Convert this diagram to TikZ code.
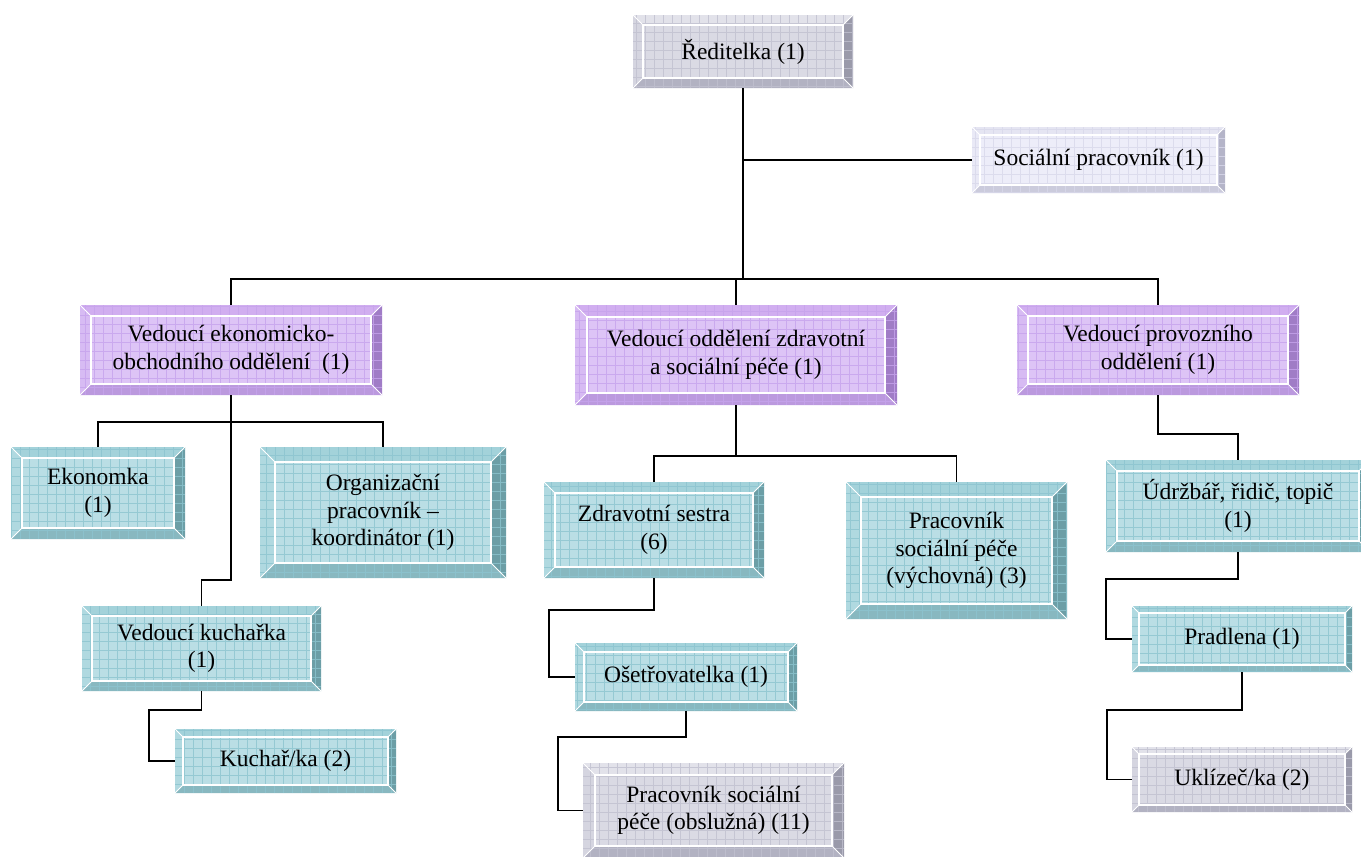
\documentclass[tikz,border=0pt]{standalone}
\usepackage{fontspec}
\setmainfont{Liberation Serif}
\usetikzlibrary{calc}
% teal
\definecolor{tF}{HTML}{BADEE5}\definecolor{tT}{HTML}{A3D2DA}\definecolor{tL}{HTML}{B0D9E0}
\definecolor{tR}{HTML}{6C9EA6}\definecolor{tB}{HTML}{88B8C0}\definecolor{tG}{HTML}{8CC4CF}
% purple
\definecolor{pF}{HTML}{DDC4F6}\definecolor{pT}{HTML}{D1AEF0}\definecolor{pL}{HTML}{D7BBF3}
\definecolor{pR}{HTML}{A07CC6}\definecolor{pB}{HTML}{BB99DE}\definecolor{pG}{HTML}{C6A3EC}
% grey
\definecolor{gF}{HTML}{DADAE4}\definecolor{gT}{HTML}{E2E2EA}\definecolor{gL}{HTML}{D5D5E0}
\definecolor{gR}{HTML}{9A9AAA}\definecolor{gB}{HTML}{B2B2C2}\definecolor{gG}{HTML}{C0C0CF}
% lavender
\definecolor{lF}{HTML}{EDEDF9}\definecolor{lT}{HTML}{E5E5F2}\definecolor{lL}{HTML}{E9E9F6}
\definecolor{lR}{HTML}{B4B4C8}\definecolor{lB}{HTML}{CBCBDC}\definecolor{lG}{HTML}{D8D8EA}
% defaults
\colorlet{bT}{tT}\colorlet{bL}{tL}\colorlet{bR}{tR}\colorlet{bB}{tB}\colorlet{bG}{tG}
\def\bev{10}
\begin{document}
\begin{tikzpicture}[x=1pt,y=-1pt,
  conn/.style={draw=black, line width=1.8pt},
  bev/.store in=\bev,
  bx/.style n args={3}{minimum width=#1, minimum height=#2, bev=#3},
  schteal/.style={fill=tF,/utils/exec={\colorlet{bT}{tT}\colorlet{bL}{tL}\colorlet{bR}{tR}\colorlet{bB}{tB}\colorlet{bG}{tG}}},
  schpurple/.style={fill=pF,/utils/exec={\colorlet{bT}{pT}\colorlet{bL}{pL}\colorlet{bR}{pR}\colorlet{bB}{pB}\colorlet{bG}{pG}}},
  schgrey/.style={fill=gF,/utils/exec={\colorlet{bT}{gT}\colorlet{bL}{gL}\colorlet{bR}{gR}\colorlet{bB}{gB}\colorlet{bG}{gG}}},
  schlav/.style={fill=lF,/utils/exec={\colorlet{bT}{lT}\colorlet{bL}{lL}\colorlet{bR}{lR}\colorlet{bB}{lB}\colorlet{bG}{lG}}},
  box/.style={rectangle, inner sep=0pt, outer sep=0pt, align=center,
    font=\fontsize{23.5}{27.4}\selectfont,
    path picture={
      \coordinate (pNW) at (path picture bounding box.north west);
      \coordinate (pSE) at (path picture bounding box.south east);
      \coordinate (pNE) at (pSE |- pNW);
      \coordinate (pSW) at (pNW |- pSE);
      \coordinate (iNW) at ($(pNW)+(\bev pt,-\bev pt)$);
      \coordinate (iNE) at ($(pNE)+(-\bev pt,-\bev pt)$);
      \coordinate (iSE) at ($(pSE)+(-\bev pt,\bev pt)$);
      \coordinate (iSW) at ($(pSW)+(\bev pt,\bev pt)$);
      \fill[bT] (pNW) -- (pNE) -- (iNE) -- (iNW) -- cycle;
      \fill[bL] (pNW) -- (pSW) -- (iSW) -- (iNW) -- cycle;
      \fill[bR] (pNE) -- (pSE) -- (iSE) -- (iNE) -- cycle;
      \fill[bB] (pSW) -- (pSE) -- (iSE) -- (iSW) -- cycle;
      \draw[bG, line width=0.7pt, opacity=0.8, step=9pt] (pSW) grid (pNE);
      \draw[white, line width=1.3pt] (iNW) rectangle (iSE);
      \draw[white, line width=0.8pt] (pNW) -- (iNW) (pNE) -- (iNE) (pSW) -- (iSW) (pSE) -- (iSE);
    }}
]
\useasboundingbox (0,0) rectangle (1361,857);

% nodes
\node[box, schgrey, bx={220}{73}{10}] (red) at (743,51.5) {Ředitelka (1)};
\node[box, schlav, bx={253}{66}{8}] (soc) at (1098.5,160) {Sociální pracovník (1)};

\node[box, schpurple, bx={302}{90}{11}] (ekon) at (231,350) {Vedoucí ekonomicko-\\obchodního oddělení~~(1)};
\node[box, schpurple, bx={322}{100}{12}] (zdr) at (736,355) {Vedoucí oddělení zdravotní\\a sociální péče (1)};
\node[box, schpurple, bx={282}{90}{11}] (prov) at (1158,350) {Vedoucí provozního\\oddělení (1)};

\node[box, schteal, bx={174}{92}{11}] (ekonomka) at (98,493) {Ekonomka\\(1)};
\node[box, schteal, bx={246}{131}{15}] (org) at (383,512.5) {Organizační\\pracovník –\\koordinátor (1)};
\node[box, schteal, bx={239}{85}{10}] (vedkuch) at (201.5,648.5) {Vedoucí kuchařka\\(1)};
\node[box, schteal, bx={221}{64}{8}] (kuch) at (285.5,761) {Kuchař/ka (2)};

\node[box, schteal, bx={220}{96}{11}] (zs) at (654,530) {Zdravotní sestra\\(6)};
\node[box, schteal, bx={221}{137}{15}] (pspv) at (956.5,550.5) {Pracovník\\sociální péče\\(výchovná) (3)};
\node[box, schteal, bx={222}{68}{9}] (ose) at (686,677) {Ošetřovatelka (1)};
\node[box, schgrey, bx={261}{95}{12}] (obsl) at (713.5,810.5) {Pracovník sociální\\péče (obslužná) (11)};

\node[box, schteal, bx={264}{92}{11}] (udr) at (1238,506) {Údržbář, řidič, topič\\(1)};
\node[box, schteal, bx={220}{66}{7}] (prad) at (1242,639) {Pradlena (1)};
\node[box, schgrey, bx={220}{65}{7}] (ukl) at (1242,779.5) {Uklízeč/ka (2)};

% connectors
\coordinate (j1) at (743,279);
\draw[conn] (red.south) -- (j1);
\draw[conn] (red.south |- soc.west) -- (soc.west);
\draw[conn] (ekon.north) |- (j1) -| (prov.north);
\draw[conn] (zdr.north) -- (zdr.north |- j1);

\coordinate (j2) at (231,422);
\draw[conn] (ekonomka.north) |- (j2) -| (org.north);
\draw[conn] (ekon.south) -- ++(0,185) -| (vedkuch.north);
\draw[conn] (vedkuch.south) |- ++(-52.5,19) |- (kuch.west);

\coordinate (j3) at (736,456);
\draw[conn] (zdr.south) -- (j3);
\draw[conn] (zs.north) |- (j3) -| (pspv.north);
\draw[conn] (zs.south) |- ++(-105,32) |- (ose.west);
\draw[conn] (ose.south) |- ++(-128,26) |- (obsl.west);

\draw[conn] (prov.south) -- ++(0,39) -| (udr.north);
\draw[conn] (udr.south) |- ++(-132,27) |- (prad.west);
\draw[conn] (prad.south) |- ++(-135,38) |- (ukl.west);
\end{tikzpicture}
\end{document}
